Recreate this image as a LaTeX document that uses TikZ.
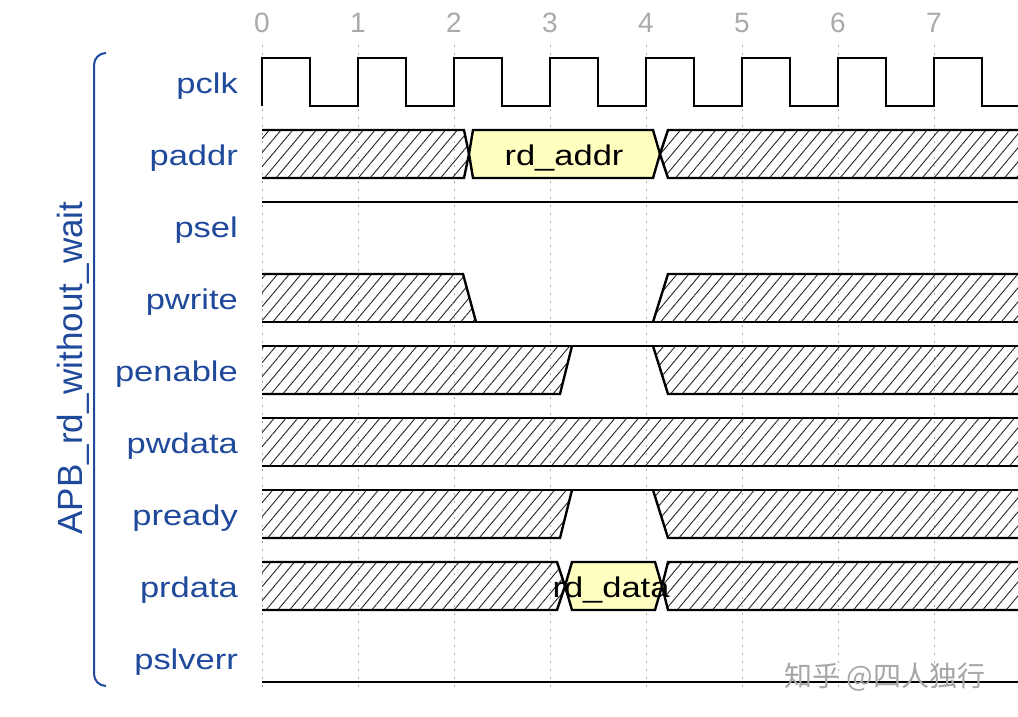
\documentclass[tikz,border=0pt]{standalone}
\usepackage{fontspec}
\setmainfont{Liberation Sans}
\newfontfamily\cjkfont{Noto Sans CJK SC}
\usetikzlibrary{patterns.meta}
\definecolor{lblblue}{RGB}{31,73,155}
\definecolor{numgray}{RGB}{170,170,170}
\definecolor{hexyellow}{RGB}{255,255,192}
\newcommand{\wide}[1]{\scalebox{1.21}[1]{#1}}
\begin{document}
\begin{tikzpicture}[x=1pt,y=-1pt,
  sig/.style={line width=2.4pt,line join=miter,black},
  hatch/.style={pattern={Lines[angle=50,distance=9pt,line width=0.9pt]},pattern color=black!85},
  hexbox/.style={fill=hexyellow,draw=black,line width=2.4pt,line join=miter},
  gridline/.style={numgray,line width=1pt,dash pattern=on 2pt off 6pt},
  num/.style={numgray,anchor=base,inner sep=0pt,font=\fontsize{28}{32}\selectfont},
  lbl/.style={lblblue,anchor=base east,inner sep=0pt,font=\fontsize{28.5}{32}\selectfont},
  hextext/.style={black,anchor=base,inner sep=0pt,font=\fontsize{28.5}{32}\selectfont},
  brace/.style={lblblue,line width=2pt,rounded corners=12pt}]
\fill[white] (0,0) rectangle (1018,717);
\useasboundingbox (0,0) rectangle (1018,717);
\begin{scope}
\clip (0,0) rectangle (1018,717);
% grid and numbers
\foreach \k in {0,...,7}{
  \draw[gridline] ({262+96*\k},45) -- ({262+96*\k},692);
  \node[num] (n\k) at ({262+96*\k},33) {\k};
}
% labels
\node[lbl] (lpclk) at (238,93) {\wide{pclk}};
\node[lbl] (lpaddr) at (238,165) {\wide{paddr}};
\node[lbl] (lpsel) at (238,237) {\wide{psel}};
\node[lbl] (lpwrite) at (238,309) {\wide{pwrite}};
\node[lbl] (lpenable) at (238,381) {\wide{penable}};
\node[lbl] (lpwdata) at (238,453) {\wide{pwdata}};
\node[lbl] (lpready) at (238,525) {\wide{pready}};
\node[lbl] (lprdata) at (238,597) {\wide{prdata}};
\node[lbl] (lpslverr) at (238,669) {\wide{pslverr}};
\node[lblblue,rotate=90,anchor=base,inner sep=0pt,font=\fontsize{35}{40}\selectfont] (title) at (82,368) {APB\_rd\_without\_wait};
\draw[brace] (106,53) -- (94,53) -- (94,686) -- (106,686);
% pclk
\draw[sig] (262,106) \foreach \k in {0,...,7}{ -- ({262+96*\k},58) -- ({310+96*\k},58) -- ({310+96*\k},106) -- ({358+96*\k},106)};
% paddr
\fill[hatch] (262,130) -- (464,130) -- (469,154) -- (464,178) -- (262,178) -- cycle;
\draw[sig] (262,130) -- (464,130) -- (469,154) -- (464,178) -- (262,178);
\draw[hexbox] (469,154) -- (473,130) -- (653,130) -- (660,154) -- (653,178) -- (473,178) -- cycle;
\node[hextext] (addr) at (564,165) {\wide{rd\_addr}};
\fill[hatch] (660,154) -- (668,130) -- (1030,130) -- (1030,178) -- (668,178) -- cycle;
\draw[sig] (1030,130) -- (668,130) -- (660,154) -- (668,178) -- (1030,178);
% psel
\draw[sig] (262,202) -- (1030,202);
% pwrite
\fill[hatch] (262,274) -- (463,274) -- (476,322) -- (262,322) -- cycle;
\draw[sig] (262,274) -- (463,274) -- (476,322);
\draw[sig] (262,322) -- (1030,322);
\fill[hatch] (653,322) -- (668,274) -- (1030,274) -- (1030,322) -- cycle;
\draw[sig] (653,322) -- (668,274) -- (1030,274);
% penable
\fill[hatch] (262,346) -- (572,346) -- (560,394) -- (262,394) -- cycle;
\draw[sig] (262,346) -- (1030,346);
\draw[sig] (572,346) -- (560,394) -- (262,394);
\fill[hatch] (653,346) -- (668,394) -- (1030,394) -- (1030,346) -- cycle;
\draw[sig] (653,346) -- (668,394) -- (1030,394);
% pwdata
\fill[hatch] (262,418) rectangle (1030,466);
\draw[sig] (262,418) -- (1030,418);
\draw[sig] (262,466) -- (1030,466);
% pready
\fill[hatch] (262,490) -- (572,490) -- (560,538) -- (262,538) -- cycle;
\draw[sig] (262,490) -- (1030,490);
\draw[sig] (572,490) -- (560,538) -- (262,538);
\fill[hatch] (653,490) -- (668,538) -- (1030,538) -- (1030,490) -- cycle;
\draw[sig] (653,490) -- (668,538) -- (1030,538);
% prdata
\fill[hatch] (262,562) -- (557,562) -- (565,586) -- (557,610) -- (262,610) -- cycle;
\draw[sig] (262,562) -- (557,562) -- (565,586) -- (557,610) -- (262,610);
\draw[hexbox] (565,586) -- (572,562) -- (655,562) -- (662,586) -- (655,610) -- (572,610) -- cycle;
\fill[hatch] (662,586) -- (668,562) -- (1030,562) -- (1030,610) -- (668,610) -- cycle;
\draw[sig] (1030,562) -- (668,562) -- (662,586) -- (668,610) -- (1030,610);
\node[hextext] (data) at (611,597) {\wide{rd\_data}};
% pslverr
\draw[sig] (262,682) -- (1030,682);
% watermark
\node[gray!70,inner sep=0pt,font=\cjkfont\fontsize{28}{32}\selectfont] (wm) at (885,677) {知乎 @四人独行};
\end{scope}
\end{tikzpicture}
\end{document}
